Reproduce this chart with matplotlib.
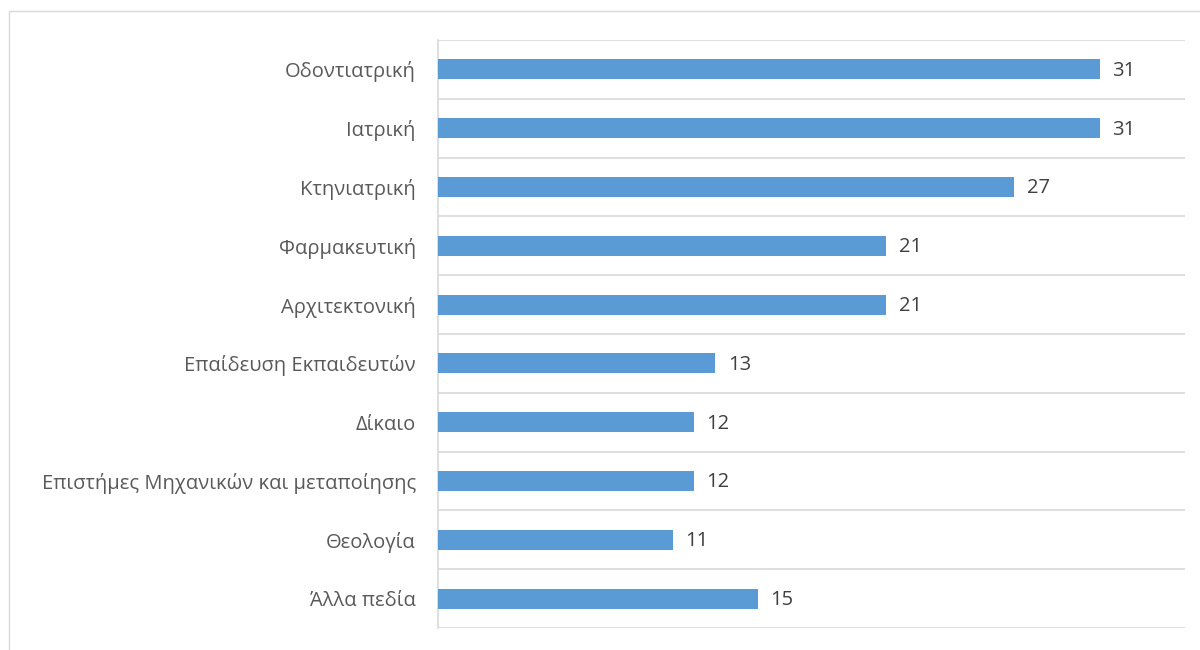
import matplotlib.pyplot as plt
from matplotlib.patches import Rectangle

categories = ["Οδοντιατρική", "Ιατρική", "Κτηνιατρική", "Φαρμακευτική", "Αρχιτεκτονική",
              "Επαίδευση Εκπαιδευτών", "Δίκαιο", "Επιστήμες Μηχανικών και μεταποίησης",
              "Θεολογία", "Άλλα πεδία"]
values = [31, 31, 27, 21, 21, 13, 12, 12, 11, 15]

plt.rcParams['font.family'] = ['Open Sans', 'DejaVu Sans']
fig = plt.figure(figsize=(12, 6.5), dpi=100)
fig.patches.append(Rectangle((9/1200, -0.01), 1.02, 1 - 11/650 + 0.01, transform=fig.transFigure,
                             fill=False, edgecolor='#d9d9d9', linewidth=1))
ax = fig.add_axes([438/1200, 1 - 628/650, (1185 - 438)/1200, (628 - 40)/650])

n = len(categories)
ypos = list(range(n))
ax.barh(ypos, values, height=0.34, color='#5B9BD5', zorder=3)
ax.set_ylim(n - 0.5, -0.5)
ax.set_xlim(0, 35)
ax.set_yticks(ypos)
ax.set_yticklabels(categories, fontsize=14.5, color='#595959')
ax.tick_params(axis='y', length=0, pad=16)
ax.set_xticks([])
for i in range(n + 1):
    ax.axhline(i - 0.5, color='#d9d9d9', linewidth=1.2, zorder=1)
for s in ['top', 'right', 'bottom']:
    ax.spines[s].set_visible(False)
ax.spines['left'].set_color('#d9d9d9')
ax.spines['left'].set_linewidth(1.2)
for y, v in zip(ypos, values):
    ax.annotate(str(v), (v, y), xytext=(9, -1), textcoords='offset points',
                va='center', ha='left', fontsize=14.5, color='#404040')

fig.savefig('out.png', dpi=100)
